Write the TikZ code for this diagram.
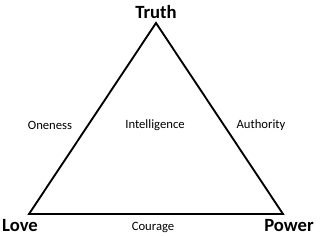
\documentclass[tikz,border=0pt]{standalone}
\usepackage{fontspec}
\setmainfont{Carlito}
\usepackage{tikz}
\usetikzlibrary{positioning}
\tikzset{
  cornerlabel/.style={
    font=\fontsize{14}{16}\selectfont\bfseries, inner sep=0pt
  },
  sidelabel/.style={
    font=\fontsize{9.5}{11}\selectfont, inner sep=0pt
  },
  edgeline/.style={line width=1.4pt, line join=miter},
}

\begin{document}
\begin{tikzpicture}[x=0.75pt, y=0.75pt]
  \useasboundingbox (0,0) rectangle (320,235);

  % --- Corners ---
  \coordinate (apex) at (156,212);
  \coordinate (left) at (29,21);
  \coordinate (right) at (283,21);

  \draw[edgeline] (apex) -- (left) -- (right) -- cycle;

  % --- Corner labels ---
  \node[cornerlabel] (truth) at (156,223) {Truth};
  \node[cornerlabel] (love) at (20,9) {Love};
  \node[cornerlabel] (power) at (289,9) {Power};

  % --- Side labels ---
  \node[sidelabel] (oneness) at (50,110) {Oneness};
  \node[sidelabel] (intel) at (155,110) {Intelligence};
  \node[sidelabel] (authority) at (261,110) {Authority};
  \node[sidelabel] (courage) at (153,8) {Courage};
\end{tikzpicture}
\end{document}
